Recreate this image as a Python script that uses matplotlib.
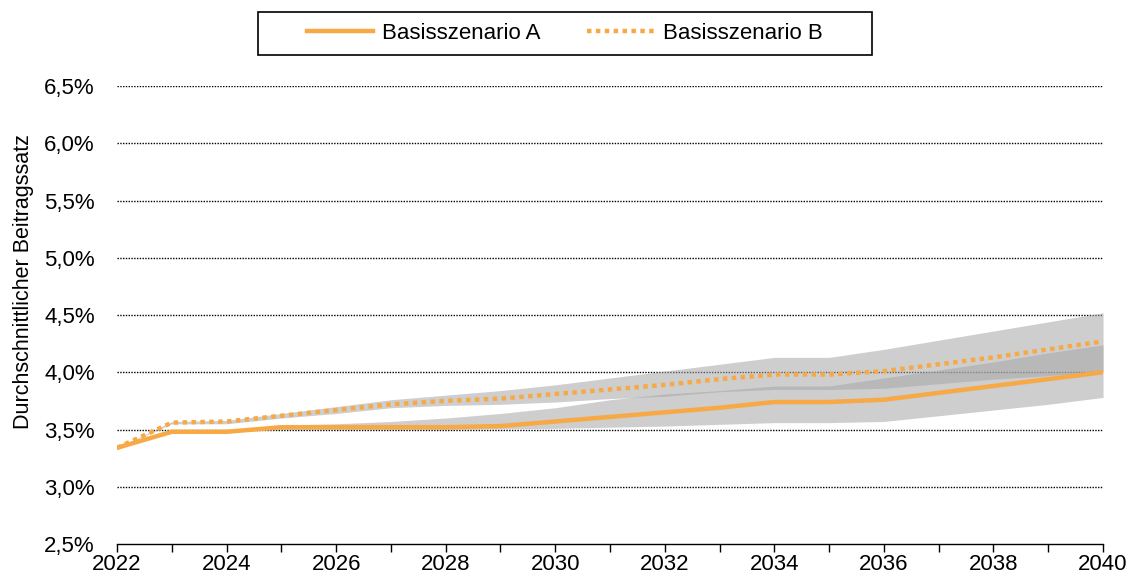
import matplotlib.pyplot as plt
from matplotlib.patches import Rectangle
import numpy as np

plt.rcParams['font.family'] = ['Liberation Sans', 'DejaVu Sans']

years = np.arange(2022, 2041)
szenario_a = [3.34, 3.48, 3.48, 3.52, 3.52, 3.52, 3.52, 3.53, 3.57, 3.61, 3.65, 3.69, 3.74, 3.74, 3.76, 3.82, 3.88, 3.94, 4.00]
szenario_b = [3.34, 3.56, 3.57, 3.62, 3.67, 3.72, 3.75, 3.77, 3.81, 3.85, 3.89, 3.94, 3.98, 3.98, 4.01, 4.07, 4.13, 4.20, 4.27]
band_a_lo = [3.34, 3.48, 3.48, 3.50, 3.50, 3.50, 3.50, 3.505, 3.51, 3.52, 3.53, 3.545, 3.56, 3.56, 3.57, 3.62, 3.67, 3.72, 3.78]
band_a_hi = [3.34, 3.48, 3.49, 3.54, 3.55, 3.57, 3.60, 3.64, 3.69, 3.76, 3.81, 3.84, 3.88, 3.88, 3.95, 4.02, 4.09, 4.17, 4.24]
band_b_lo = [3.34, 3.55, 3.55, 3.60, 3.64, 3.69, 3.71, 3.72, 3.74, 3.77, 3.79, 3.83, 3.85, 3.85, 3.86, 3.90, 3.94, 3.97, 4.00]
band_b_hi = [3.34, 3.57, 3.58, 3.64, 3.70, 3.76, 3.80, 3.84, 3.89, 3.95, 4.01, 4.07, 4.13, 4.13, 4.20, 4.28, 4.36, 4.44, 4.52]
yticks = [2.5, 3.0, 3.5, 4.0, 4.5, 5.0, 5.5, 6.0, 6.5]

orange = '#F7A945'

fig = plt.figure(figsize=(11.34, 5.82), dpi=100)
ax = fig.add_axes([0.1032, 0.0653, 0.8695, 0.7869])

for y in yticks[1:]:
    ax.axhline(y, color='black', lw=1.0, ls=(0, (1, 1)), zorder=1)

ax.fill_between(years, band_a_lo, band_a_hi, color='#a6a6a6', alpha=0.54, lw=0, zorder=2)
ax.fill_between(years, band_b_lo, band_b_hi, color='#a6a6a6', alpha=0.54, lw=0, zorder=2)

ax.plot(years, szenario_a, color=orange, lw=3.2, label='Basisszenario A', zorder=4)
ax.plot(years, szenario_b, color=orange, lw=3.2, ls=(0, (1, 1)), label='Basisszenario B', zorder=4)

ax.set_xlim(2022, 2040)
ax.set_ylim(2.5, 6.5)
ax.set_xticks(years)
ax.set_xticklabels([str(y) if y % 2 == 0 else '' for y in years])
ax.set_yticks(yticks)
ax.set_yticklabels([('%.1f%%' % v).replace('.', ',') for v in yticks])
ax.tick_params(axis='x', direction='out', length=6, width=1, labelsize=16, pad=1)
ax.tick_params(axis='y', length=0, labelsize=16, pad=16)

for s in ['top', 'right', 'left']:
    ax.spines[s].set_visible(False)
ax.spines['bottom'].set_color('black')
ax.spines['bottom'].set_linewidth(1)

ax.set_ylabel('Durchschnittlicher Beitragssatz', fontsize=15.5)
ax.yaxis.set_label_coords(-0.084, 0.574)

# legend without frame, box drawn separately (Excel style, wide side padding)
leg = fig.legend(loc='center', bbox_to_anchor=(0.498, 0.9424), ncol=2, fontsize=16,
                 handlelength=3.0, handletextpad=0.4, columnspacing=2.1,
                 frameon=False, borderaxespad=0)
fig.patches.append(Rectangle((258 / 1134, 1 - 55 / 582), 614 / 1134, 43 / 582,
                             transform=fig.transFigure, fill=False,
                             edgecolor='black', lw=1.2))

fig.savefig('out.png', dpi=100)
